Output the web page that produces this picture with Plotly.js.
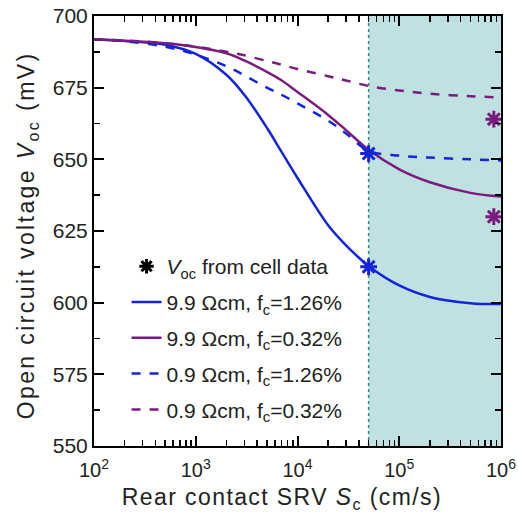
<!DOCTYPE html>
<html>
<head>
<meta charset="utf-8">
<script src="https://cdn.plot.ly/plotly-3.0.1.min.js"></script>
<style>
html,body{margin:0;padding:0;background:#fff;}
#chart{width:518px;height:518px;}
#chart .xtitle{letter-spacing:1.4px;}
#chart .ytitle{letter-spacing:2.4px;}
</style>
</head>
<body>
<div id="chart"></div>
<script>
// Rear contact SRV S_c (cm/s)
const srv = [100, 200, 500, 1000, 2000, 3000, 5000, 7000, 10000, 20000, 30000, 50000, 100000, 200000, 500000, 1000000];
// Voc (mV) curves
const voc_99_126 = [691.8, 691.3, 690.0, 686.8, 679.5, 672.5, 661, 652.5, 643.5, 627, 620, 612.8, 606, 602, 599.8, 599.5];
const voc_99_032 = [691.8, 691.4, 690.5, 689.2, 687, 684.5, 680.5, 677.5, 673.5, 665.5, 660.2, 653.3, 646.5, 642, 638.3, 637];
const voc_09_126 = [691.8, 691.2, 689.3, 686.5, 682.5, 679.3, 675, 672.5, 669.5, 663.5, 659, 653, 651.3, 650.6, 650, 649.6];
const voc_09_032 = [691.8, 691.5, 690.5, 689.3, 687.5, 686.3, 684.3, 683, 681.5, 679, 677.5, 675.6, 674, 672.9, 672, 671.6];
// Voc from cell data
const cellBlueX = [50000, 50000];
const cellBlueY = [652, 612.5];
const cellPurpleX = [850000, 850000];
const cellPurpleY = [664, 630];
// shaded region (S_c range)
const shadeStart = 50000;
const shadeEnd = 1000000;

const names = [
  '9.9 Ωcm, f<sub>c</sub>=1.26%',
  '9.9 Ωcm, f<sub>c</sub>=0.32%',
  '0.9 Ωcm, f<sub>c</sub>=1.26%',
  '0.9 Ωcm, f<sub>c</sub>=0.32%'
];
const xTickVals = [1e2, 1e3, 1e4, 1e5, 1e6];
const xTickText = ['10<sup>2</sup>', '10<sup>3</sup>', '10<sup>4</sup>', '10<sup>5</sup>', '10<sup>6</sup>'];
const xMinorVals = [];
for (let d = 2; d < 6; d++) for (let m = 2; m <= 9; m++) xMinorVals.push(m * Math.pow(10, d));

const BLUE = '#1424dc';
const PURPLE = '#7a1c7c';
const FONT = 'Arial, "Liberation Sans", sans-serif';
const TXT = '#222';

function curve(y, name, color, dash, grp) {
  return {x: srv, y: y, name: name, type: 'scatter', mode: 'lines',
    line: {color: color, width: 2.5, dash: dash, shape: 'spline', smoothing: 1},
    legendgroup: grp};
}

const data = [
  {x: [null], y: [null], name: '<i>V</i><sub>oc</sub> from cell data', type: 'scatter', mode: 'markers',
   marker: {symbol: 'asterisk-open', size: 12, color: '#000', line: {color: '#000', width: 3}}, legendgroup: 'g0'},
  curve(voc_99_126, names[0], BLUE, 'solid', 'g1'),
  curve(voc_99_032, names[1], PURPLE, 'solid', 'g2'),
  curve(voc_09_126, names[2], BLUE, 'dash', 'g3'),
  curve(voc_09_032, names[3], PURPLE, 'dash', 'g4'),
  {x: cellBlueX, y: cellBlueY, type: 'scatter', mode: 'markers', showlegend: false, cliponaxis: false,
   marker: {symbol: 'asterisk-open', size: 14, color: BLUE, line: {color: BLUE, width: 3}}},
  {x: cellPurpleX, y: cellPurpleY, type: 'scatter', mode: 'markers', showlegend: false, cliponaxis: true,
   marker: {symbol: 'asterisk-open', size: 14, color: PURPLE, line: {color: PURPLE, width: 3}}},
  // carrier for the minor-tick x axis (no visible marks)
  {x: [null], y: [null], xaxis: 'x2', yaxis: 'y', type: 'scatter', mode: 'lines', showlegend: false, hoverinfo: 'skip'}
];

const layout = {
  width: 518, height: 518,
  margin: {l: 94, r: 17, t: 16, b: 72},
  paper_bgcolor: '#fff', plot_bgcolor: '#fff',
  font: {family: FONT, color: TXT, size: 20},
  showlegend: true,
  legend: {x: 0.08, y: 0.465, xanchor: 'left', yanchor: 'top', bgcolor: 'rgba(0,0,0,0)',
           font: {family: FONT, size: 21, color: TXT}, tracegroupgap: 5.5},
  xaxis: {
    type: 'log', range: [2, 6], tickmode: 'array', tickvals: xTickVals, ticktext: xTickText,
    ticks: 'inside', ticklen: 10, tickwidth: 2, tickcolor: '#000', ticklabelstandoff: 5,
    showline: true, linewidth: 2, linecolor: '#000', mirror: 'ticks', showgrid: false, zeroline: false,
    tickfont: {family: FONT, size: 20, color: TXT},
    title: {text: 'Rear contact SRV <i>S</i><sub>c</sub> (cm/s)&nbsp;&nbsp;&nbsp;&nbsp;', font: {family: FONT, size: 23, color: TXT}, standoff: 9}
  },
  xaxis2: {
    type: 'log', range: [2, 6], overlaying: 'x', side: 'bottom', tickmode: 'array', tickvals: xMinorVals,
    showticklabels: false, ticks: 'inside', ticklen: 6, tickwidth: 1.5, tickcolor: '#000',
    showline: false, mirror: 'ticks', showgrid: false, zeroline: false
  },
  yaxis: {
    range: [550, 700], dtick: 25, tick0: 550,
    ticks: 'inside', ticklen: 10, tickwidth: 2, tickcolor: '#000',
    showline: true, linewidth: 2, linecolor: '#000', mirror: 'ticks', showgrid: false, zeroline: false,
    minor: {ticks: 'inside', ticklen: 6, tickwidth: 1.5, tickcolor: '#000', dtick: 12.5, showgrid: false},
    tickfont: {family: FONT, size: 21, color: TXT},
    title: {text: 'Open circuit voltage <i>V</i><sub>oc</sub> (mV)&nbsp;', font: {family: FONT, size: 23, color: TXT}, standoff: 12}
  },
  shapes: [
    {type: 'rect', xref: 'x', yref: 'paper', x0: shadeStart, x1: shadeEnd, y0: 0, y1: 1,
     fillcolor: '#bfe1e2', line: {width: 0}, layer: 'below'},
    {type: 'line', xref: 'x', yref: 'paper', x0: shadeStart, x1: shadeStart, y0: 0, y1: 1,
     line: {color: '#2a8c8c', width: 1.5, dash: 'dot'}, layer: 'below'}
  ]
};

Plotly.newPlot('chart', data, layout, {displayModeBar: false, staticPlot: true});
</script>
</body>
</html>
